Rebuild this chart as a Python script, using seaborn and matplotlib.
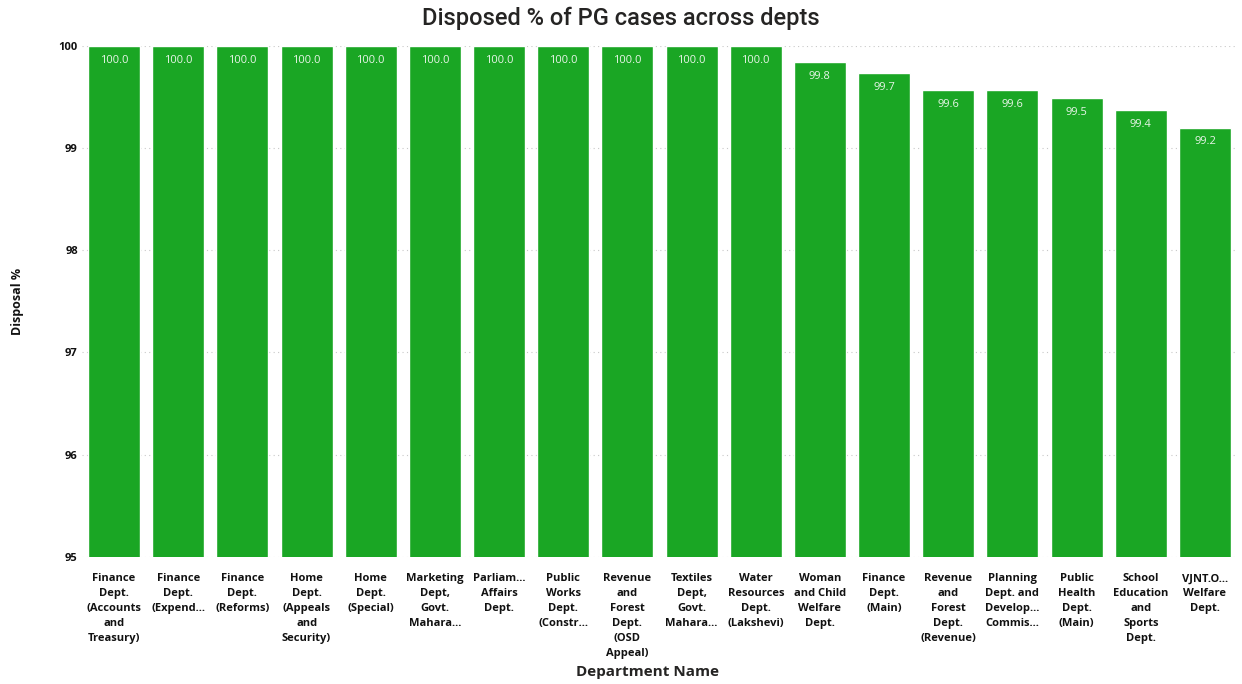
import matplotlib
matplotlib.use("Agg")
import matplotlib.pyplot as plt
import pandas as pd
import seaborn as sns

sns.set_theme(style="white")
plt.rcParams["font.family"] = ["Open Sans", "DejaVu Sans"]

departments = [
    "Finance\nDept.\n(Accounts\nand\nTreasury)",
    "Finance\nDept.\n(Expend...",
    "Finance\nDept.\n(Reforms)",
    "Home\nDept.\n(Appeals\nand\nSecurity)",
    "Home\nDept.\n(Special)",
    "Marketing\nDept,\nGovt.\nMahara...",
    "Parliam...\nAffairs\nDept.",
    "Public\nWorks\nDept.\n(Constr...",
    "Revenue\nand\nForest\nDept.\n(OSD\nAppeal)",
    "Textiles\nDept,\nGovt.\nMahara...",
    "Water\nResources\nDept.\n(Lakshevi)",
    "Woman\nand Child\nWelfare\nDept.",
    "Finance\nDept.\n(Main)",
    "Revenue\nand\nForest\nDept.\n(Revenue)",
    "Planning\nDept. and\nDevelop...\nCommis...",
    "Public\nHealth\nDept.\n(Main)",
    "School\nEducation\nand\nSports\nDept.",
    "VJNT.O...\nWelfare\nDept.",
]
disposal_pct = [100.0, 100.0, 100.0, 100.0, 100.0, 100.0, 100.0, 100.0, 100.0,
                100.0, 100.0, 99.84, 99.73, 99.57, 99.57, 99.49, 99.37, 99.20]

df = pd.DataFrame({"Department": departments, "Disposal": disposal_pct})

fig = plt.figure(figsize=(12.42, 6.84), dpi=100)
ax = fig.add_axes([0.066, 0.186, 0.93, 0.747])

sns.barplot(data=df, x="Department", y="Disposal", color="#1AA624",
            saturation=1, width=0.81, ax=ax)

for i, v in enumerate(disposal_pct):
    ax.text(i, v - 0.14, f"{v:.1f}", ha="center", va="center",
            fontsize=8, color="#E8F5E8")

ax.set_ylim(95, 100)
ax.set_xlim(-0.5, 17.5)
ax.set_yticks([95, 96, 97, 98, 99, 100])
ax.yaxis.grid(True, linestyle=(0, (1, 3)), color="#C8C8C8", linewidth=0.8)
ax.set_axisbelow(True)
for s in ax.spines.values():
    s.set_visible(False)

ax.tick_params(axis="y", labelsize=8, pad=3, length=0)
ax.tick_params(axis="x", labelsize=8, pad=12, length=0)
for lbl in ax.get_yticklabels():
    lbl.set_fontweight("bold")
    lbl.set_color("#111111")
for lbl in ax.get_xticklabels():
    lbl.set_fontweight("bold")
    lbl.set_color("#111111")
    lbl.set_linespacing(1.5)

ax.set_ylabel("Disposal %", fontsize=9, fontweight="bold", color="#111111")
ax.yaxis.set_label_coords(-0.05, 0.5)
ax.set_xlabel("Department Name", fontsize=11, fontweight="bold", color="#252423")
ax.xaxis.set_label_coords(0.49, -0.212)
fig.suptitle("Disposed % of PG cases across depts", fontsize=17, color="#252423",
             y=0.99, family=["Roboto", "DejaVu Sans"], fontweight="medium")

fig.savefig("out.png", dpi=100)
